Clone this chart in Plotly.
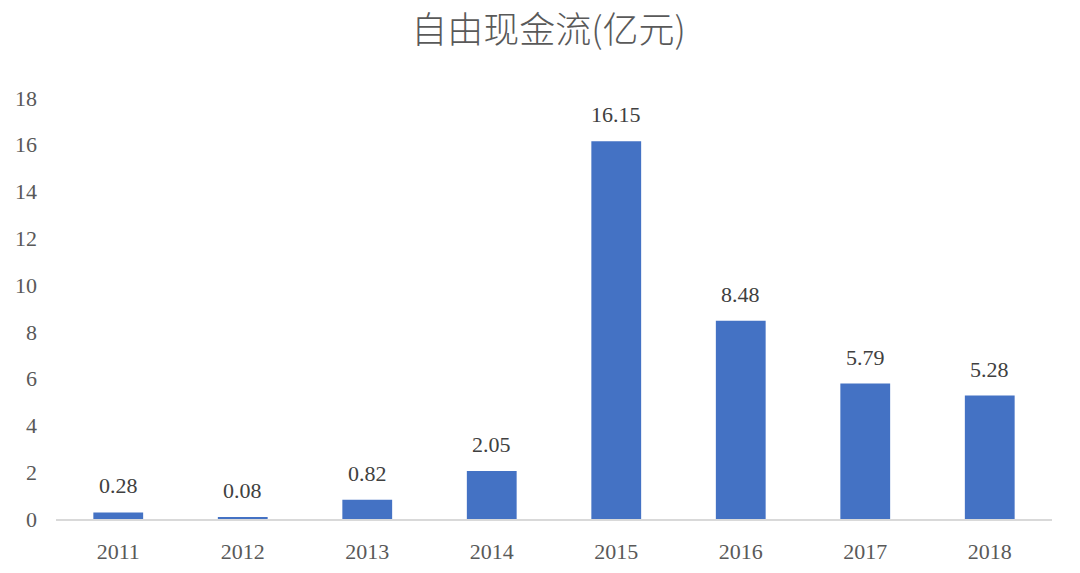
import plotly.graph_objects as go

years = ["2011", "2012", "2013", "2014", "2015", "2016", "2017", "2018"]
values = [0.28, 0.08, 0.82, 2.05, 16.15, 8.48, 5.79, 5.28]
y_ticks = [0, 2, 4, 6, 8, 10, 12, 14, 16, 18]
title_text = "自由现金流(亿元)"

serif = "Liberation Serif, DejaVu Serif, serif"

fig = go.Figure()
fig.add_trace(go.Bar(
    x=years, y=values,
    marker=dict(color="#4472C4", line=dict(width=0)),
    hoverinfo="x+y",
))

for i, v in enumerate(values):
    fig.add_annotation(
        x=i, y=v, xref="x", yref="y", text=f"{v:.2f}", showarrow=False,
        yanchor="bottom", yshift=12,
        font=dict(family=serif, size=22, color="#404040"),
    )

fig.update_layout(
    width=1080, height=573,
    margin=dict(l=56, r=28, t=98, b=54, autoexpand=False),
    paper_bgcolor="white", plot_bgcolor="white",
    bargap=0.6,
    showlegend=False,
    title=dict(
        text=title_text, x=0.508, xanchor="center", y=0.947, yanchor="middle",
        font=dict(family="Noto Sans CJK SC, sans-serif", size=36, color="#595959", weight=300),
    ),
    xaxis=dict(
        type="category", range=[-0.5, len(years) - 0.5], automargin=False,
        showline=True, linecolor="#d9d9d9", linewidth=1.5,
        showgrid=False, ticks="", ticklabelstandoff=12,
        tickfont=dict(family=serif, size=22, color="#595959"),
    ),
    yaxis=dict(
        range=[0, 18], tickvals=y_ticks, automargin=False,
        showgrid=False, zeroline=False, showline=False, ticks="",
        ticklabelstandoff=18,
        tickfont=dict(family=serif, size=22, color="#595959"),
    ),
)

fig.write_html("out.html", config={"displayModeBar": False},
               post_script="document.body.style.margin='0';")
